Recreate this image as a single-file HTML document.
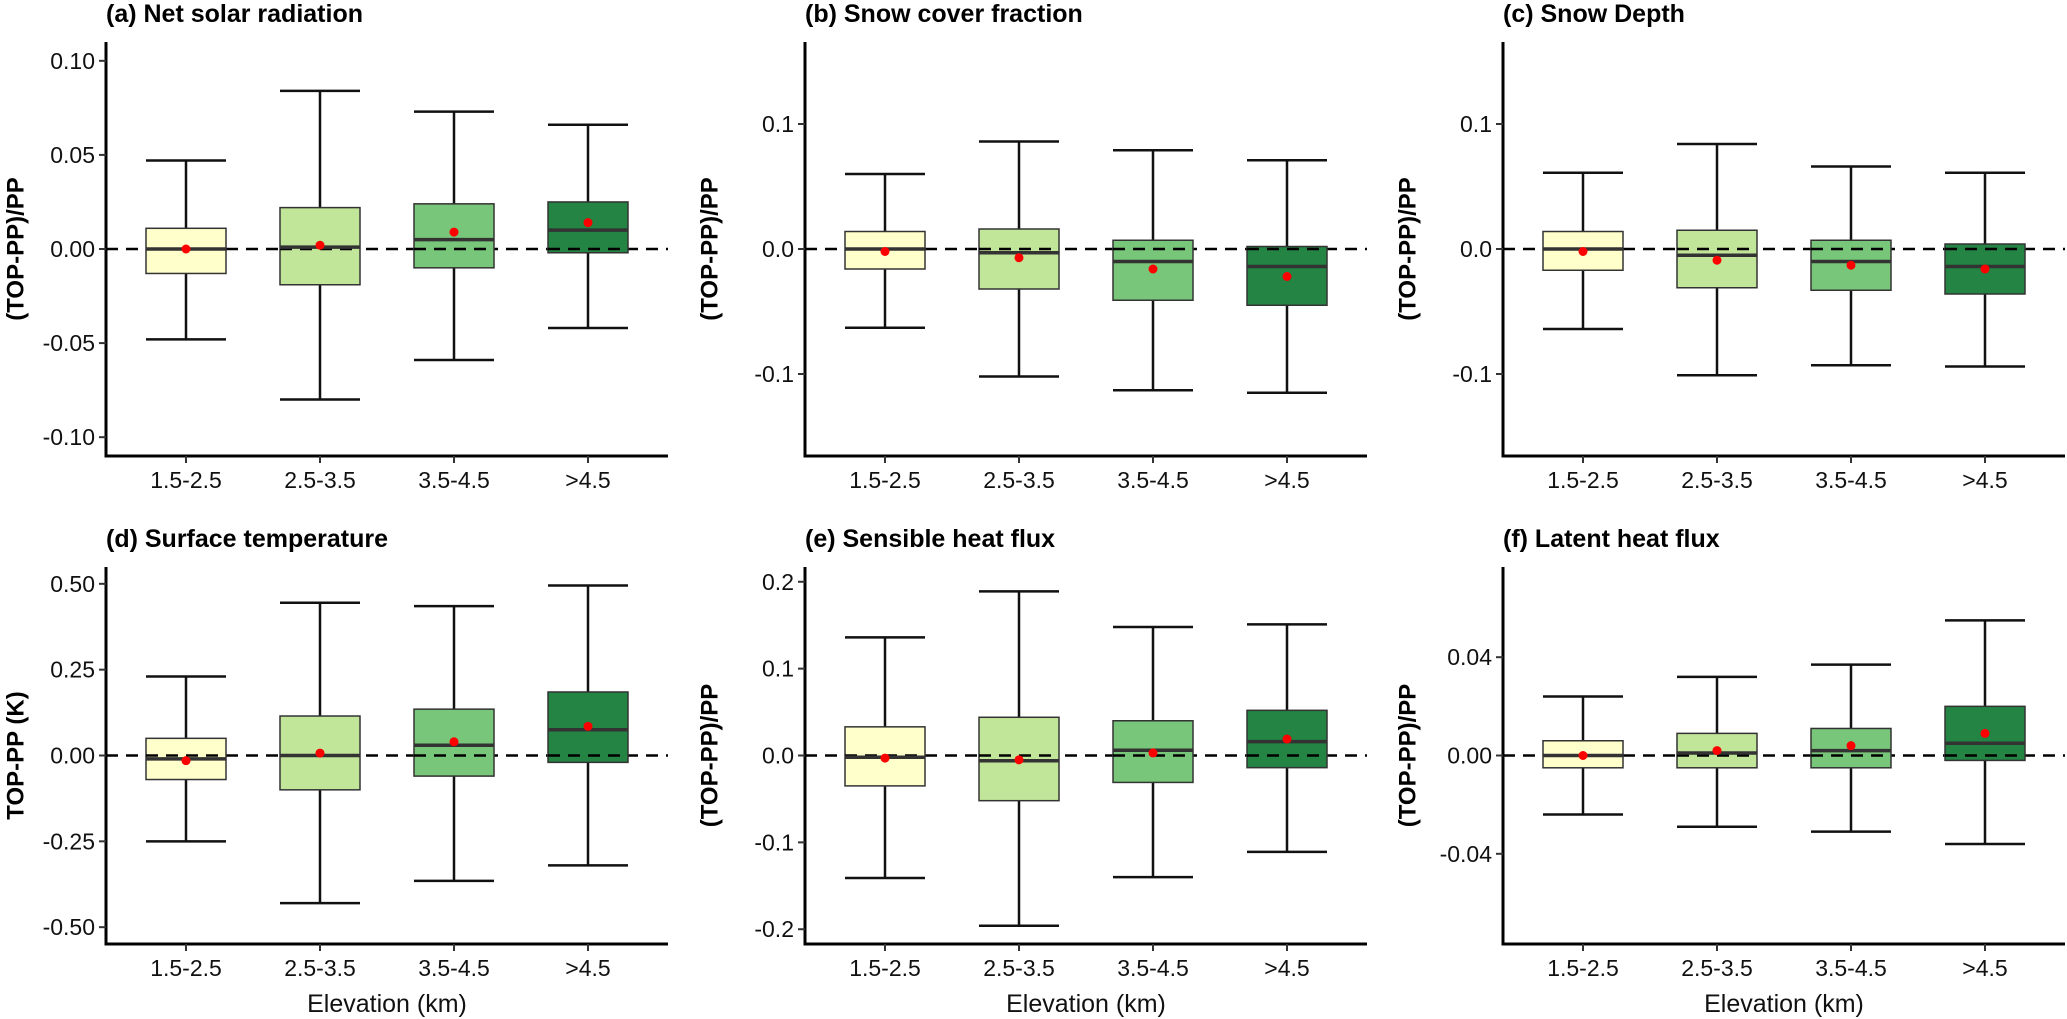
<!DOCTYPE html>
<html><head><meta charset="utf-8"><style>
html,body{margin:0;padding:0;background:#fff;}
svg{display:block;font-family:"Liberation Sans",Arial,sans-serif;}
</style></head><body>
<svg id="chart" width="2067" height="1019" viewBox="0 0 2067 1019" xmlns="http://www.w3.org/2000/svg"></svg>
<script>
const categories = ["1.5-2.5","2.5-3.5","3.5-4.5",">4.5"];
const fills = ["#FFFFCC","#C2E699","#78C679","#238443"];

const aTitle = "(a) Net solar radiation";
const aUpper = [0.047,0.084,0.073,0.066];
const aQ3 = [0.011,0.022,0.024,0.025];
const aMed = [0.000,0.001,0.005,0.010];
const aQ1 = [-0.013,-0.019,-0.010,-0.002];
const aLower = [-0.048,-0.080,-0.059,-0.042];
const aMean = [0.000,0.002,0.009,0.014];
const aTicks = [0.10,0.05,0.00,-0.05,-0.10];
const aTickLabels = ["0.10","0.05","0.00","-0.05","-0.10"];

const bTitle = "(b) Snow cover fraction";
const bUpper = [0.060,0.086,0.079,0.071];
const bQ3 = [0.014,0.016,0.007,0.002];
const bMed = [0.000,-0.003,-0.010,-0.014];
const bQ1 = [-0.016,-0.032,-0.041,-0.045];
const bLower = [-0.063,-0.102,-0.113,-0.115];
const bMean = [-0.002,-0.007,-0.016,-0.022];
const bTicks = [0.1,0.0,-0.1];
const bTickLabels = ["0.1","0.0","-0.1"];

const cTitle = "(c) Snow Depth";
const cUpper = [0.061,0.084,0.066,0.061];
const cQ3 = [0.014,0.015,0.007,0.004];
const cMed = [0.000,-0.005,-0.010,-0.014];
const cQ1 = [-0.017,-0.031,-0.033,-0.036];
const cLower = [-0.064,-0.101,-0.093,-0.094];
const cMean = [-0.002,-0.009,-0.013,-0.016];
const cTicks = [0.1,0.0,-0.1];
const cTickLabels = ["0.1","0.0","-0.1"];

const dTitle = "(d) Surface temperature";
const dUpper = [0.23,0.445,0.435,0.495];
const dQ3 = [0.05,0.115,0.135,0.185];
const dMed = [-0.01,0.0,0.03,0.075];
const dQ1 = [-0.07,-0.10,-0.06,-0.02];
const dLower = [-0.25,-0.43,-0.365,-0.32];
const dMean = [-0.015,0.007,0.04,0.085];
const dTicks = [0.50,0.25,0.00,-0.25,-0.50];
const dTickLabels = ["0.50","0.25","0.00","-0.25","-0.50"];

const eTitle = "(e) Sensible heat flux";
const eUpper = [0.136,0.189,0.148,0.151];
const eQ3 = [0.033,0.044,0.040,0.052];
const eMed = [-0.002,-0.006,0.006,0.016];
const eQ1 = [-0.035,-0.052,-0.031,-0.014];
const eLower = [-0.141,-0.196,-0.140,-0.111];
const eMean = [-0.003,-0.005,0.003,0.019];
const eTicks = [0.2,0.1,0.0,-0.1,-0.2];
const eTickLabels = ["0.2","0.1","0.0","-0.1","-0.2"];

const fTitle = "(f) Latent heat flux";
const fUpper = [0.024,0.032,0.037,0.055];
const fQ3 = [0.006,0.009,0.011,0.020];
const fMed = [0.000,0.001,0.002,0.005];
const fQ1 = [-0.005,-0.005,-0.005,-0.002];
const fLower = [-0.024,-0.029,-0.031,-0.036];
const fMean = [0.000,0.002,0.004,0.009];
const fTicks = [0.04,0.00,-0.04];
const fTickLabels = ["0.04","0.00","-0.04"];

const NS = "http://www.w3.org/2000/svg";
const svg = document.getElementById("chart");
function mk(tag, attrs, parent){
  const el = document.createElementNS(NS, tag);
  for (const k in attrs) el.setAttribute(k, attrs[k]);
  (parent||svg).appendChild(el);
  return el;
}

const panels = [
  {id:"a", title:aTitle, up:aUpper, q3:aQ3, med:aMed, q1:aQ1, lo:aLower, mean:aMean, ticks:aTicks, tl:aTickLabels, dom:0.110, ylab:"(TOP-PP)/PP", ax:106, top:42, bot:456, row:0},
  {id:"b", title:bTitle, up:bUpper, q3:bQ3, med:bMed, q1:bQ1, lo:bLower, mean:bMean, ticks:bTicks, tl:bTickLabels, dom:0.1656, ylab:"(TOP-PP)/PP", ax:805, top:42, bot:456, row:0},
  {id:"c", title:cTitle, up:cUpper, q3:cQ3, med:cMed, q1:cQ1, lo:cLower, mean:cMean, ticks:cTicks, tl:cTickLabels, dom:0.1656, ylab:"(TOP-PP)/PP", ax:1503, top:42, bot:456, row:0},
  {id:"d", title:dTitle, up:dUpper, q3:dQ3, med:dMed, q1:dQ1, lo:dLower, mean:dMean, ticks:dTicks, tl:dTickLabels, dom:0.549, ylab:"TOP-PP (K)", ax:106, top:567, bot:944, row:1},
  {id:"e", title:eTitle, up:eUpper, q3:eQ3, med:eMed, q1:eQ1, lo:eLower, mean:eMean, ticks:eTicks, tl:eTickLabels, dom:0.217, ylab:"(TOP-PP)/PP", ax:805, top:567, bot:944, row:1},
  {id:"f", title:fTitle, up:fUpper, q3:fQ3, med:fMed, q1:fQ1, lo:fLower, mean:fMean, ticks:fTicks, tl:fTickLabels, dom:0.0767, ylab:"(TOP-PP)/PP", ax:1503, top:567, bot:944, row:1}
];

const step = 134, boxW = 80;
panels.forEach(p => {
  const g = mk("g", {});
  
  
  const yMid = (p.top + p.bot) / 2;
  const half = (p.bot - p.top) / 2;
  const y = v => yMid - v / p.dom * half;
  const x = i => p.ax + 80 + i * step;
  const right = x(categories.length - 1) + 80;

  const t = mk("text", {x:p.ax, y:p.top - 20, "font-size":25, "font-weight":"bold", fill:"#000"}, g);
  t.textContent = p.title;
  
  

  const z = mk("line", {x1:p.ax, x2:right, y1:y(0), y2:y(0), stroke:"#000", "stroke-width":2.5, "stroke-dasharray":"12,8"}, g);
  
  

  categories.forEach((c, i) => {
    const cx = x(i);
    const bg = mk("g", {}, g);
    
    
    mk("line", {x1:cx, x2:cx, y1:y(p.up[i]), y2:y(p.q3[i]), stroke:"#111", "stroke-width":2.5}, bg);
    mk("line", {x1:cx, x2:cx, y1:y(p.q1[i]), y2:y(p.lo[i]), stroke:"#111", "stroke-width":2.5}, bg);
    mk("line", {x1:cx-boxW/2, x2:cx+boxW/2, y1:y(p.up[i]), y2:y(p.up[i]), stroke:"#111", "stroke-width":2.5}, bg);
    mk("line", {x1:cx-boxW/2, x2:cx+boxW/2, y1:y(p.lo[i]), y2:y(p.lo[i]), stroke:"#111", "stroke-width":2.5}, bg);
    mk("rect", {x:cx-boxW/2, y:y(p.q3[i]), width:boxW, height:y(p.q1[i])-y(p.q3[i]), fill:fills[i], stroke:"#333", "stroke-width":1.5}, bg);
    mk("line", {x1:cx-boxW/2, x2:cx+boxW/2, y1:y(0), y2:y(0), stroke:"#000", "stroke-width":2.5, "stroke-dasharray":"12,8"}, bg);
    mk("line", {x1:cx-boxW/2, x2:cx+boxW/2, y1:y(p.med[i]), y2:y(p.med[i]), stroke:"#333", "stroke-width":3.5}, bg);
    const m = mk("circle", {cx:cx, cy:y(p.mean[i]), r:4.5, fill:"#FF0000"}, bg);
    
    
  });

  const ya = mk("line", {x1:p.ax, x2:p.ax, y1:p.top, y2:p.bot+1.5, stroke:"#000", "stroke-width":3}, g);
  
  
  const xa = mk("line", {x1:p.ax-1.5, x2:right, y1:p.bot, y2:p.bot, stroke:"#000", "stroke-width":3}, g);
  
  

  p.ticks.forEach((v, k) => {
    mk("line", {x1:p.ax-7, x2:p.ax, y1:y(v), y2:y(v), stroke:"#333", "stroke-width":2}, g);
    const tl = mk("text", {x:p.ax-11, y:y(v)+8, "text-anchor":"end", "font-size":23, fill:"#111"}, g);
    tl.textContent = p.tl[k];
    
    
  });
  categories.forEach((c, i) => {
    mk("line", {x1:x(i), x2:x(i), y1:p.bot, y2:p.bot+7, stroke:"#333", "stroke-width":2}, g);
    const xl = mk("text", {x:x(i), y:p.bot+32, "text-anchor":"middle", "font-size":23, fill:"#111"}, g);
    xl.textContent = c;
    
    
  });

  const lx = p.id === "a" || p.id === "d" ? 16 : p.ax - 95;
  const yl = mk("text", {x:lx, y:yMid, "text-anchor":"middle", "font-size":24, "font-weight":"bold", fill:"#000", transform:"rotate(-90 " + lx + " " + yMid + ")"}, g);
  yl.textContent = p.ylab;
  
  
  yl.setAttribute('dominant-baseline', 'central');

  if (p.row === 1) {
    const xt = mk("text", {x:(p.ax + right)/2, y:1012, "text-anchor":"middle", "font-size":25, fill:"#111"}, g);
    xt.textContent = "Elevation (km)";
    
    
  }
});
</script>
</body></html>
